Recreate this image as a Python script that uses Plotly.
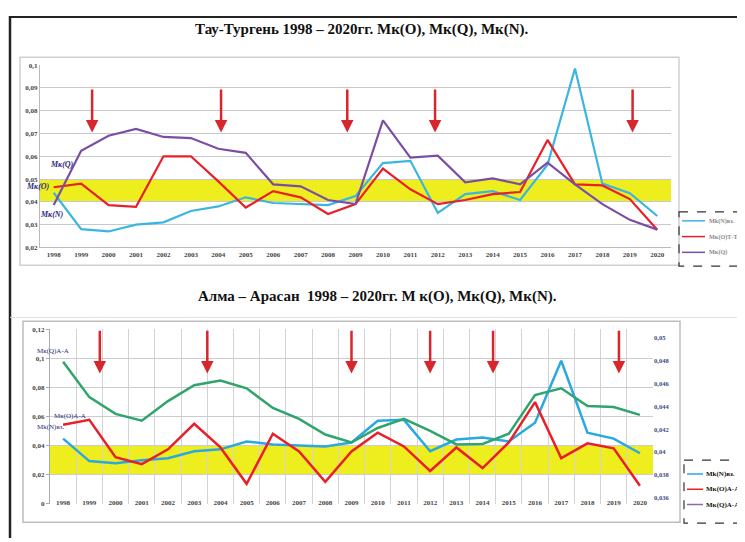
import plotly.graph_objects as go

# The page body has an 8px margin, so the figure is sized to fill the rest of the window.
OFF = 8
W, H = 745 - OFF, 542 - OFF
years = list(range(1998, 2021))

# Top chart: Тау-Тургень
tt_N = [0.044, 0.028, 0.027, 0.030, 0.031, 0.036, 0.038, 0.042, 0.0395, 0.039, 0.0386, 0.0425,
        0.057, 0.058, 0.0352, 0.0434, 0.0447, 0.0408, 0.0563, 0.0985, 0.048, 0.0438, 0.0338]
tt_O = [0.0464, 0.048, 0.0386, 0.0378, 0.060, 0.060, 0.049, 0.0375, 0.0447, 0.042, 0.0347, 0.039,
        0.0546, 0.0455, 0.039, 0.0408, 0.0434, 0.0443, 0.0672, 0.0477, 0.0472, 0.0412, 0.0278]
tt_Q = [0.0386, 0.0624, 0.069, 0.072, 0.0685, 0.068, 0.0633, 0.0615, 0.0477, 0.0468, 0.0408, 0.039,
        0.0758, 0.0594, 0.0603, 0.0486, 0.0503, 0.0477, 0.0572, 0.0477, 0.039, 0.0321, 0.0278]
tt_arrows = [1999.4, 2004.1, 2008.7, 2011.9, 2019.1]
tt_band = [0.04, 0.05]
tt_names = ["Mk(N)вз.", "Мк(О)Т-Т", "Мк(Q)"]
tt_colors = ["#3bb6e0", "#e8202a", "#7b4ea6"]

# Bottom chart: Алма-Арасан
aa_N = [0.0447, 0.0292, 0.0278, 0.0298, 0.0312, 0.036, 0.0373, 0.0427, 0.0407, 0.040, 0.0393, 0.042,
        0.057, 0.0576, 0.036, 0.044, 0.0454, 0.0427, 0.0556, 0.0983, 0.0488, 0.0447, 0.0346]
aa_O = [0.0542, 0.0576, 0.0319, 0.0271, 0.0373, 0.0549, 0.0386, 0.0136, 0.048, 0.0359, 0.0149, 0.0359,
        0.0488, 0.0393, 0.0224, 0.0386, 0.0244, 0.042, 0.0698, 0.0312, 0.0414, 0.038, 0.0122]
aa_Q = [0.0976, 0.0732, 0.0617, 0.057, 0.0705, 0.0814, 0.0847, 0.0793, 0.0658, 0.0583, 0.0475, 0.042,
        0.052, 0.0583, 0.050, 0.0407, 0.041, 0.048, 0.0746, 0.0793, 0.0671, 0.0664, 0.061]
aa_arrows = [1999.4, 2003.5, 2009.0, 2012.0, 2014.4, 2019.2]
aa_band = [0.02, 0.04]
aa_names = ["Mk(N)вз.", "Мк(О)А-А", "Мк(Q)А-А"]
aa_legend_colors = ["#2aa8e2", "#e8202a", "#8a6bb0"]
aa_colors = ["#2aa8e2", "#e8202a", "#2fa46c"]
y3_ticks = [0.036, 0.038, 0.04, 0.042, 0.044, 0.046, 0.048, 0.05]

def px(x):
    return (x - OFF) / W

def py(y):
    return 1 - (y - OFF) / H

fig = go.Figure()

for name, vals, col in zip(tt_names, [tt_N, tt_O, tt_Q], tt_colors):
    fig.add_trace(go.Scatter(x=years, y=vals, name=name, mode="lines", showlegend=False,
                             line=dict(color=col, width=2.2), xaxis="x", yaxis="y"))
for name, vals, col in zip(aa_names, [aa_N, aa_O, aa_Q], aa_colors):
    fig.add_trace(go.Scatter(x=years, y=vals, name=name, mode="lines", showlegend=False,
                             line=dict(color=col, width=2.5), xaxis="x2", yaxis="y2"))
fig.add_trace(go.Scatter(x=[None], y=[None], showlegend=False, mode="lines",
                         xaxis="x2", yaxis="y3", hoverinfo="skip"))

tickfont = dict(family="Liberation Serif", size=7, color="#444", weight="bold")

shapes = []
annotations = []

def pline(x0, y0, x1, y1, color, width, dash="solid"):
    shapes.append(dict(type="line", xref="paper", yref="paper", x0=px(x0), x1=px(x1), y0=py(y0), y1=py(y1),
                       line=dict(color=color, width=width, dash=dash)))

def prect(x0, y0, x1, y1, color, width, dash="solid"):
    shapes.append(dict(type="rect", xref="paper", yref="paper", x0=px(x0), x1=px(x1), y0=py(y0), y1=py(y1),
                       line=dict(color=color, width=width, dash=dash), layer="below"))

def ptext(text, x, y, font, xanchor="center"):
    annotations.append(dict(text=text, x=px(x), y=py(y), xref="paper", yref="paper", showarrow=False,
                            xanchor=xanchor, yanchor="middle", font=font))

# frames and page lines
pline(10, 13, 745, 13, "#222", 2)
pline(10, 12, 10, 542, "#222", 2.5)
prect(20, 54, 679, 265, "#cfcfcf", 1.5)
prect(23, 322, 680, 526, "#bdbdbd", 1.5)
pline(10, 318, 745, 318, "#e0e0e0", 1)
# legend boxes
prect(679, 211, 744.5, 266, "#333", 1.2, "dash")
prect(684, 463, 744.5, 527, "#333", 1.2, "dash")

# legend entries (drawn manually to match the compact original layout)
for i, (name, col) in enumerate(zip(tt_names, tt_colors)):
    yy = 220 + 16 * i
    pline(682, yy, 705, yy, col, 1.5)
    ptext(name, 707, yy, dict(family="Liberation Serif", size=6.2, color="#8a8a8a", weight="bold"), "left")
for i, (name, col) in enumerate(zip(aa_names, aa_legend_colors)):
    yy = 477 + 15.5 * i
    pline(687, yy, 703, yy, col, 1.5)
    ptext(name, 704, yy, dict(family="Liberation Serif", size=7, color="#111", weight="bold"), "left")

# yellow bands
shapes.append(dict(type="rect", xref="x domain", yref="y", x0=0, x1=1, y0=tt_band[0], y1=tt_band[1],
                   fillcolor="#eeee1e", line=dict(width=0), layer="below"))
shapes.append(dict(type="rect", xref="x2 domain", yref="y2", x0=0, x1=1, y0=aa_band[0], y1=aa_band[1],
                   fillcolor="#eeee1e", line=dict(width=0), layer="below"))

# arrows
for a in tt_arrows:
    annotations.append(dict(x=a, y=0.0705, ax=a, ay=0.09, xref="x", yref="y", axref="x", ayref="y",
                            text="", showarrow=True, arrowhead=2, arrowsize=1, arrowwidth=2.5,
                            arrowcolor="#d8262d"))
for a in aa_arrows:
    annotations.append(dict(x=a, y=0.0895, ax=a, ay=0.12, xref="x2", yref="y2", axref="x2", ayref="y2",
                            text="", showarrow=True, arrowhead=2, arrowsize=1, arrowwidth=2.5,
                            arrowcolor="#d8262d"))

# titles
title_font = dict(family="Liberation Serif", size=15, color="#111", weight="bold")
ptext("Тау-Тургень 1998 – 2020гг. Мк(О), Мк(Q), Мк(N).", 362, 26, title_font)
ptext("Алма – Арасан  1998 – 2020гг. М к(О), Мк(Q), Мк(N).", 377, 297, title_font)

# series labels
lab_font = dict(family="Liberation Serif", size=8, color="#2c2c80", style="italic", weight="bold")
for t, x, y in [("Мк(Q)", 62, 163), ("Мк(О)", 38, 185), ("Мк(N)", 52, 214)]:
    ptext(t, x, y, lab_font)
lab_font2 = dict(family="Liberation Serif", size=7, color="#2c2c80")
ptext("Мк(Q)А-А", 35, 352, lab_font2, "left")
ptext("Мк(О)А-А", 52, 418, lab_font2, "left")
ptext("Mk(N)вз.", 35, 429, lab_font2, "left")

fig.update_layout(
    width=W, height=H,
    margin=dict(l=0, r=0, t=0, b=0),
    paper_bgcolor="white", plot_bgcolor="white",
    separators=", ",
    showlegend=False,
    xaxis=dict(domain=[px(40), px(671)], range=[1997.5, 2020.5], tickvals=years, tickfont=tickfont,
               showgrid=False, showline=True, linecolor="#bbbbbb", zeroline=False, anchor="y", ticks=""),
    yaxis=dict(domain=[py(247), py(62)], range=[0.02, 0.1], dtick=0.01, tick0=0.02, tickfont=tickfont,
               showgrid=True, gridcolor="#c8c8c8", gridwidth=1, showline=True, linecolor="#bbbbbb",
               zeroline=False, anchor="x", ticks=""),
    xaxis2=dict(domain=[px(50), px(653)], range=[1997.5, 2020.5], tickvals=years, tickfont=tickfont,
                showgrid=False, showline=False, zeroline=False, anchor="y2", ticks="",
                ticklabelstandoff=-7,
                minor=dict(tick0=1997.5, dtick=1, showgrid=True, gridcolor="#d3d3d3", gridwidth=1)),
    yaxis2=dict(domain=[py(507), py(330)], range=[0, 0.12], dtick=0.02, tickfont=tickfont,
                showgrid=True, gridcolor="#cccccc", gridwidth=1, showline=True, linecolor="#aaaaaa",
                zeroline=False, anchor="x2", ticks="outside", ticklen=3, tickcolor="#aaaaaa"),
    yaxis3=dict(overlaying="y2", side="right", anchor="x2", range=[0.03548, 0.05078],
                tickvals=y3_ticks,
                tickfont=dict(family="Liberation Serif", size=6.5, color="#3a4a8a", weight="bold"),
                showgrid=False, zeroline=False, showline=False, ticks=""),
    shapes=shapes,
    annotations=annotations,
)

fig.write_html("out.html")
